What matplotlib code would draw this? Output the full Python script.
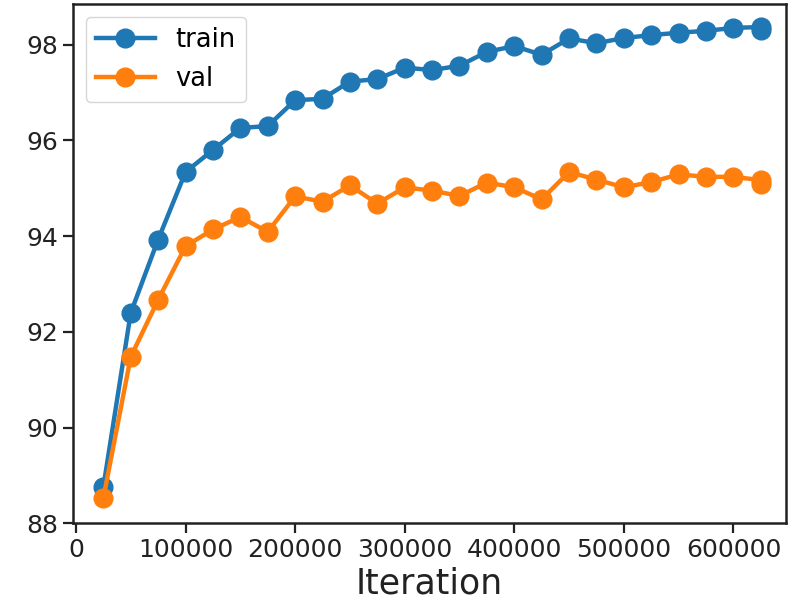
import matplotlib
matplotlib.use("Agg")
import matplotlib.pyplot as plt

iterations = [25000, 50000, 75000, 100000, 125000, 150000, 175000, 200000,
              225000, 250000, 275000, 300000, 325000, 350000, 375000, 400000,
              425000, 450000, 475000, 500000, 525000, 550000, 575000, 600000,
              625000, 625000]
train_acc = [88.76, 92.40, 93.93, 95.34, 95.80, 96.26, 96.30, 96.84,
             96.87, 97.23, 97.28, 97.52, 97.47, 97.56, 97.85, 97.97,
             97.79, 98.13, 98.03, 98.14, 98.20, 98.25, 98.29, 98.35,
             98.37, 98.31]
val_acc = [88.53, 91.48, 92.67, 93.79, 94.14, 94.40, 94.09, 94.83,
           94.72, 95.06, 94.68, 95.02, 94.95, 94.84, 95.12, 95.02,
           94.77, 95.34, 95.18, 95.02, 95.13, 95.29, 95.24, 95.24,
           95.17, 95.08]
y_ticks = [88, 90, 92, 94, 96, 98]
x_ticks = [0, 100000, 200000, 300000, 400000, 500000, 600000]

fig = plt.figure(figsize=(7.9, 6.15), dpi=100)
ax = fig.add_axes([0.092, 0.149, 0.903, 0.8445])

ax.plot(iterations, train_acc, "-o", color="#1f77b4", lw=3.2, ms=13.5, label="train")
ax.plot(iterations, val_acc, "-o", color="#ff7f0e", lw=3.2, ms=13.5, label="val")

ax.set_xlim(-3000, 648000)
ax.set_ylim(88, 98.85)
ax.set_xticks(x_ticks)
ax.set_xticklabels([str(t) for t in x_ticks])
ax.set_yticks(y_ticks)
ax.tick_params(labelsize=18, length=7, width=1.6, colors="#222222")
for s in ax.spines.values():
    s.set_linewidth(1.8)
    s.set_color("#222222")
ax.set_xlabel("Iteration", fontsize=25, color="#222222", labelpad=3)
ax.legend(loc="upper left", fontsize=18.5, handlelength=2.3)

fig.savefig("out.png", dpi=100)
